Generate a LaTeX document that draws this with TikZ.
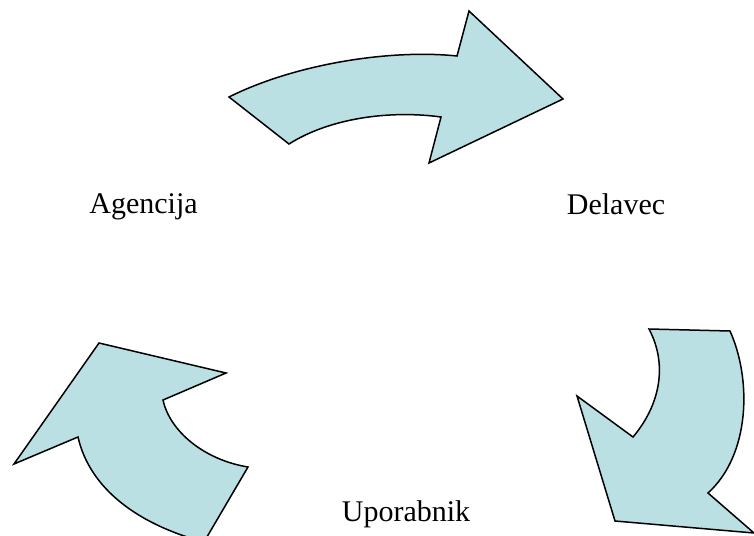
\documentclass[tikz,border=0pt]{standalone}
\usepackage{fontspec}
\setmainfont{Liberation Serif}
\usepackage{tikz}
\usepackage{xcolor}
\definecolor{arrowfill}{RGB}{187,224,227}

\begin{document}
\begin{tikzpicture}[
  x=0.5pt, y=-0.5pt,
  bigarrow/.style={
    draw, fill=arrowfill,
    line width=0.75pt, line join=miter
  },
  party/.style={
    font=\fontsize{15}{18}\selectfont,
    anchor=base, inner sep=0pt
  }
]
\useasboundingbox (0,0) rectangle (754,535);
\clip (0,0) rectangle (754,535);

% --- Zgornja puscica ---
\path[bigarrow] (229,97) .. controls (295,64) and (390,49) .. (457,56)
  -- (469,11) -- (563,99) -- (429,163) -- (441,117)
  .. controls (390,110) and (330,118) .. (289,144) -- cycle;

% --- Desna puscica ---
\path[bigarrow] (649,329) -- (730,331)
  .. controls (752,380) and (750,455) .. (708,493)
  -- (754,533) -- (615,521) -- (577,396) -- (633,437)
  .. controls (660,405) and (668,365) .. (649,329) -- cycle;

% --- Leva puscica ---
\path[bigarrow] (14,464) -- (99,343) -- (226,373) -- (163,400)
  .. controls (170,432) and (205,460) .. (248,467)
  -- (204,542) .. controls (140,525) and (90,490) .. (78,437) -- cycle;

% --- Oznake ---
\node[party] (agencija) at (143.5,213) {Agencija};
\node[party] (delavec) at (616,214) {Delavec};
\node[party] (uporabnik) at (406,521) {Uporabnik};

\end{tikzpicture}
\end{document}
